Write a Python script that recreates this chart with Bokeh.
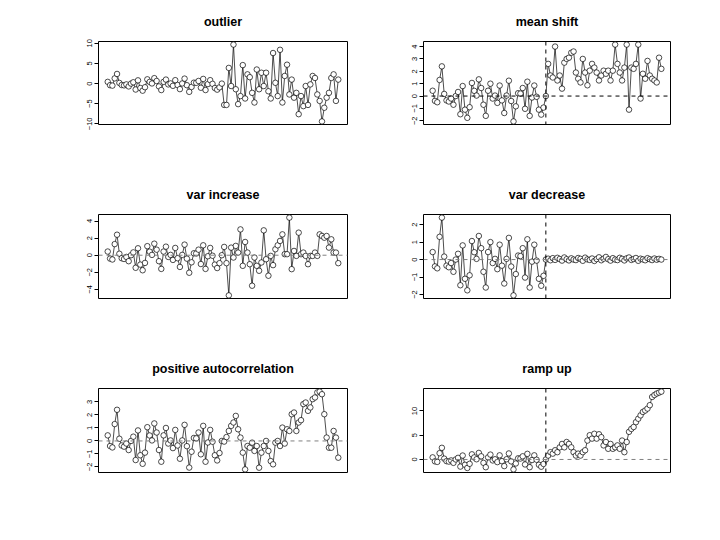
from bokeh.plotting import figure
from bokeh.layouts import gridplot
from bokeh.models import Range1d, Span, FixedTicker
from bokeh.embed import file_html
from bokeh.resources import INLINE

# ---------------- data ----------------
x = list(range(1, 101))

base = [0.43, -0.39, -0.5, 1.3, 2.4, 0.17, -0.35, -0.44, -0.2, -0.7,
        0.0, 0.33, -1.47, 0.81, -1.1, -1.76, -0.9, 1.06, 0.42, 0.04,
        1.35, 0.65, -0.7, -1.6, 0.43, 1.0, -0.2, 0.04, -0.55, 0.85,
        -0.35, -1.37, 0.04, 1.24, -0.4, -2.05, -0.83, 0.23, 0.2, 0.65,
        -1.03, 1.16, -1.6, -0.12, 0.85, -0.06, -1.1, -1.5, -0.93, 0.0]

outlier_tail = [-5.3, -5.3, 3.9, -0.6, 9.7, -1.4, -5.1, -3.1, 4.6, -3.7,
                2.3, 1.6, -2.3, -4.7, 3.5, -1.4, 2.7, -0.6, 2.7, -1.9,
                -3.7, 7.6, 0.2, -3.1, 8.4, -4.7, 1.9, 4.7, -2.7, 1.0,
                -3.5, -2.3, -7.6, -3.1, -5.6, -0.6, -5.3, -0.2, 1.9, 1.4,
                -2.7, -4.3, -9.4, -6.0, -3.5, -2.3, 1.4, 2.3, -4.3, 1.0]

mean_shift_tail = [2.6, 1.66, 1.5, 4.0, 1.26, 1.66, 0.6, 2.7, 3.0, 3.1,
                   3.5, 3.6, 1.9, 1.4, 1.1, 3.0, 1.9, 0.87, 2.05, 2.6,
                   2.3, 1.9, 1.26, 1.66, 2.05, 1.8, 2.05, 1.26, 2.05, 4.16,
                   2.6, 1.9, 1.26, 2.3, 4.16, -1.1, 2.3, 2.2, 2.6, 4.16,
                   -0.2, 1.8, 1.4, 2.84, 1.66, 1.4, 1.26, 1.1, 3.1, 2.2]

var_inc_tail = [0.97, -0.93, -4.7, 0.89, -0.27, 1.09, 0.31, 3.02, -1.24, 1.55,
                0.31, -1.05, -3.57, -0.27, -1.24, -1.82, -0.85, 2.91, -0.47, -2.4,
                -0.08, -1.16, 0.7, 1.16, 1.67, 2.44, 0.12, 0.12, 4.4, -1.63,
                0.5, -0.08, 2.64, 0.12, 0.31, -0.08, -1.05, -0.08, -0.08, 0.31,
                -0.08, 2.44, 2.25, 2.05, 2.25, 0.89, 1.86, 0.31, 0.31, -0.93]

var_dec_tail = [0.05, -0.04, 0.08, -0.02, 0.1, 0.03, -0.06, 0.12, 0.02, -0.05,
                0.07, 0.0, -0.03, 0.09, 0.04, -0.07, 0.11, 0.01, -0.02, 0.06,
                -0.08, 0.03, 0.13, -0.04, 0.05, 0.15, 0.02, -0.06, 0.08, 0.0,
                -0.03, 0.1, 0.04, -0.05, 0.07, 0.12, -0.02, 0.03, 0.09, -0.07,
                0.05, 0.01, -0.04, 0.08, 0.02, -0.03, 0.06, -0.01, 0.04, 0.0]

autocorr_tail = [-0.05, 0.3, 0.77, 1.16, 1.42, 1.93, 0.9, 0.26, -0.9, -2.19,
                 -0.39, -0.52, -0.13, -0.77, -0.39, -2.06, -0.9, -0.39, 0.0, -0.77,
                 -1.55, -1.8, -0.13, 0.0, -0.39, 1.03, -0.2, 0.9, 0.77, 2.06,
                 2.19, 0.77, 1.42, 1.6, 2.84, 2.96, 2.32, 2.58, 3.22, 3.35,
                 3.74, 3.8, 3.6, 2.06, 0.26, -0.52, -0.52, 0.77, 0.26, -1.29]

ramp_tail = [0.8, 1.5, 1.2, 1.9, 1.5, 2.5, 3.2, 2.5, 3.6, 3.2,
             2.5, 1.5, 0.8, 1.2, 0.8, 1.5, 1.9, 3.9, 5.0, 4.3,
             5.3, 4.3, 5.2, 4.6, 2.9, 3.6, 2.2, 3.2, 2.2, 2.5,
             2.9, 2.2, 3.9, 1.5, 3.6, 5.7, 6.3, 6.7, 7.7, 8.4,
             9.1, 9.8, 10.1, 10.5, 11.2, 12.9, 13.3, 13.6, 13.8, 14.0]

titles = ["outlier", "mean shift", "var increase", "var decrease",
          "positive autocorrelation", "ramp up"]
tails = [outlier_tail, mean_shift_tail, var_inc_tail, var_dec_tail,
         autocorr_tail, ramp_tail]
y_ticks = [[-10, -5, 0, 5, 10], [-2, -1, 0, 1, 2, 3, 4], [-4, -2, 0, 2, 4],
           [-2, -1, 0, 1, 2], [-2, -1, 0, 1, 2, 3], [0, 5, 10]]
change_point = 50
# reference line styles per panel: (horizontal line at 0, vertical change line)
h_line = [None, "black", "gray", "gray", "gray", "gray"]
v_line = [False, True, False, True, False, True]

# ---------------- layout ----------------
FONT = "Liberation Sans"
col_w = [352, 352]
row_h = [170, 174, 188]
border_l = [98, 71]
frame_w = [249, 247]
border_t = [41, 44, 44]
frame_h = [83, 84, 84]

figs = []
for k, (title, tail) in enumerate(zip(titles, tails)):
    r, c = divmod(k, 2)
    y = base + tail
    lo, hi = min(y), max(y)
    pad = 0.04 * (hi - lo)
    p = figure(width=col_w[c], height=row_h[r], output_backend="svg",
               toolbar_location=None, x_axis_location=None,
               x_range=Range1d(1 - 0.04 * 99, 100 + 0.04 * 99),
               y_range=Range1d(lo - pad, hi + pad),
               min_border_left=border_l[c],
               min_border_right=col_w[c] - border_l[c] - frame_w[c],
               min_border_top=border_t[r],
               min_border_bottom=row_h[r] - border_t[r] - frame_h[r],
               title=title)
    p.title.align = "center"
    p.title.text_font = FONT
    p.title.text_font_style = "bold"
    p.title.text_font_size = "12.5px"
    p.title.text_color = "black"
    p.title.standoff = 25
    p.grid.visible = False
    p.outline_line_color = "black"
    p.outline_line_width = 1
    p.background_fill_color = "white"
    p.border_fill_color = "white"

    ax = p.yaxis[0]
    ax.ticker = FixedTicker(ticks=y_ticks[k])
    ax.major_label_orientation = "vertical"
    ax.major_label_text_font = FONT
    ax.major_label_text_font_size = "7.5px"
    ax.major_label_text_color = "black"
    ax.major_label_standoff = 2
    ax.major_tick_out = 4
    ax.major_tick_in = 0
    ax.major_tick_line_color = "black"
    ax.minor_tick_line_color = None
    ax.axis_line_color = None

    if h_line[k] is not None:
        p.add_layout(Span(location=0, dimension="width", line_color=h_line[k],
                          line_dash="4 4", line_width=1))
    if v_line[k]:
        p.add_layout(Span(location=change_point, dimension="height",
                          line_color="black", line_dash="4 4", line_width=1))

    p.line(x, y, line_color="black", line_width=0.7)
    p.scatter(x, y, marker="circle", size=5.5, fill_color="white",
              line_color="black", line_width=0.7)
    figs.append(p)

grid = gridplot([[figs[0], figs[1]], [figs[2], figs[3]], [figs[4], figs[5]]],
                toolbar_location=None)

open("out.html", "w").write(file_html(grid, INLINE))
